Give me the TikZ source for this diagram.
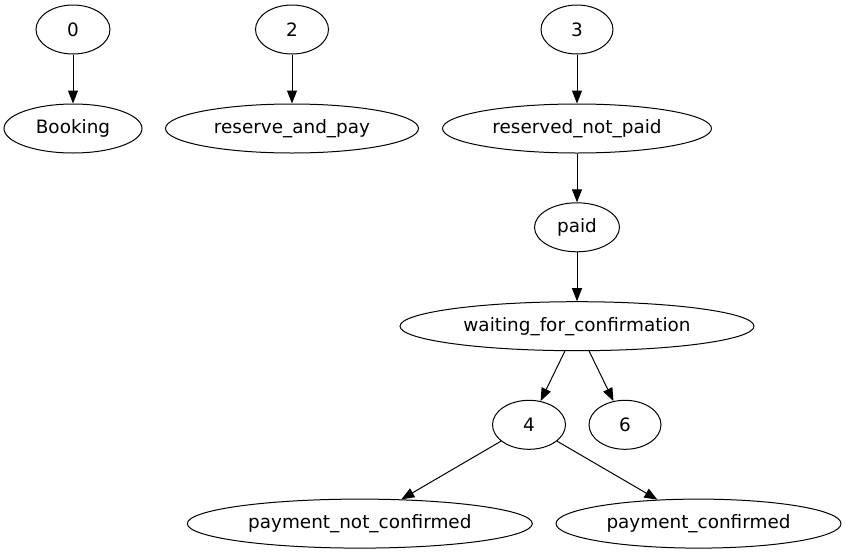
\documentclass[tikz,border=0pt]{standalone}
\usepackage{fontspec}
\setmainfont{DejaVu Sans}
\usetikzlibrary{shapes.geometric,arrows.meta}
\begin{document}
\begin{tikzpicture}[x=1pt,y=-1pt,
  st/.style={draw,ellipse,line width=1pt,inner sep=0pt,minimum height=49pt,
     font=\fontsize{18.4}{20}\selectfont},
  ed/.style={draw,line width=1pt,-{Triangle[length=13pt,width=10pt]}}]
\useasboundingbox[fill=white] (0,0) rectangle (847,555);
\node[st,minimum width=74pt] (n0) at (73,29.5) {0};
\node[st,minimum width=138pt] (booking) at (73,128.5) {Booking};
\node[st,minimum width=73pt] (n2) at (292,29.5) {2};
\node[st,minimum width=253pt] (rap) at (292,128.5) {reserve\_and\_pay};
\node[st,minimum width=72pt] (n3) at (577,29.5) {3};
\node[st,minimum width=269pt] (rnp) at (577,128.5) {reserved\_not\_paid};
\node[st,minimum width=85pt] (paid) at (577,227.3) {paid};
\node[st,minimum width=354pt] (wfc) at (577,326.2) {waiting\_for\_confirmation};
\node[st,minimum width=73pt] (n4) at (529,424.8) {4};
\node[st,minimum width=72pt] (n6) at (625,424.8) {6};
\node[st,minimum width=345pt] (pnc) at (359.8,523.6) {payment\_not\_confirmed};
\node[st,minimum width=285pt] (pc) at (698.5,523.6) {payment\_confirmed};
\draw[ed] (n0) -- (booking);
\draw[ed] (n2) -- (rap);
\draw[ed] (n3) -- (rnp);
\draw[ed] (rnp) -- (paid);
\draw[ed] (paid) -- (wfc);
\draw[ed] (wfc) -- (n4);
\draw[ed] (wfc) -- (n6);
\draw[ed] (n4) -- (pnc);
\draw[ed] (n4) -- (pc);
\end{tikzpicture}
\end{document}
